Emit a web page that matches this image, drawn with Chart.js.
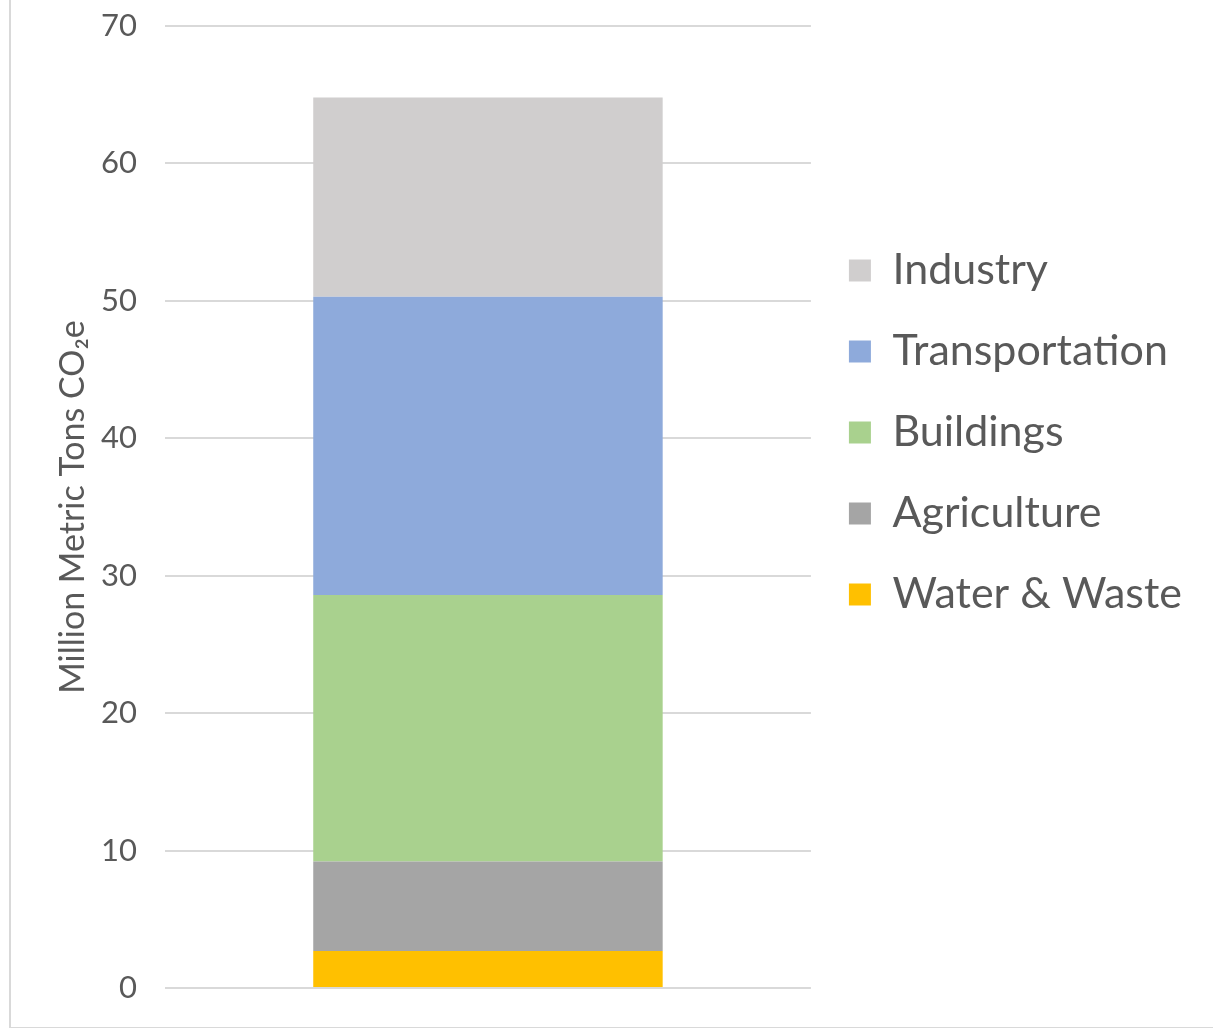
<!DOCTYPE html>
<html lang="en">
<head>
    <meta charset="UTF-8">
    <title>Emissions by Sector</title>
    <script src="https://cdn.jsdelivr.net/npm/chart.js"></script>
    <style>
        body {
            margin: 0;
            background: #fff;
            font-family: Lato, sans-serif;
            overflow: hidden;
        }
        #frame {
            position: absolute;
            left: 9px;
            top: -10px;
            width: 1300px;
            height: 1035px;
            border: 2px solid #d9d9d9;
        }
        #chartContainer {
            position: absolute;
            left: 0;
            top: 0;
            width: 1213px;
            height: 1028px;
        }
    </style>
</head>
<body>
    <div id="frame"></div>
    <div id="chartContainer">
        <canvas id="sectorChart"></canvas>
    </div>

    <script>
        // data (bottom of stack first)
        const categories = [''];
        const sectors = ['Water & Waste', 'Agriculture', 'Buildings', 'Transportation', 'Industry'];
        const waterWaste = [2.7];
        const agriculture = [6.5];
        const buildings = [19.4];
        const transportation = [21.7];
        const industry = [14.5];
        const sectorColors = ['#ffc000', '#a5a5a5', '#a9d18e', '#8eaadb', '#d0cece'];

        const seriesValues = [waterWaste, agriculture, buildings, transportation, industry];
        const textColor = '#595959';

        function drawChart() {
            const ctx = document.getElementById('sectorChart').getContext('2d');
            new Chart(ctx, {
                type: 'bar',
                data: {
                    labels: categories,
                    datasets: sectors.map((name, i) => ({
                        label: name,
                        data: seriesValues[i],
                        backgroundColor: sectorColors[i],
                        borderWidth: 0,
                        barPercentage: 0.541,
                        categoryPercentage: 1.0
                    }))
                },
                options: {
                    responsive: true,
                    maintainAspectRatio: false,
                    animation: false,
                    layout: {
                        padding: { left: 53, right: 21, top: 26, bottom: 40 }
                    },
                    plugins: {
                        tooltip: { enabled: false },
                        legend: {
                            position: 'right',
                            align: 'start',
                            reverse: true,
                            maxWidth: 420,
                            title: {
                                display: true,
                                text: ' ',
                                padding: { top: 173, bottom: 0 },
                                font: { size: 10 }
                            },
                            labels: {
                                boxWidth: 22,
                                boxHeight: 22,
                                padding: 38,
                                color: textColor,
                                font: { family: 'Lato', size: 43 }
                            }
                        }
                    },
                    scales: {
                        x: {
                            stacked: true,
                            display: false
                        },
                        y: {
                            stacked: true,
                            min: 0,
                            max: 70,
                            afterFit: (scale) => {
                                // let the layout padding decide where the plot starts
                                scale.paddingTop = 0;
                                scale.paddingBottom = 0;
                                scale.width = 112;
                            },
                            ticks: {
                                stepSize: 10,
                                padding: 28,
                                color: textColor,
                                font: { family: 'Lato', size: 31 }
                            },
                            grid: {
                                color: '#d9d9d9',
                                lineWidth: 2,
                                drawTicks: false
                            },
                            border: { display: false },
                            title: {
                                display: true,
                                text: 'Million Metric Tons CO₂e',
                                color: textColor,
                                padding: { top: 0, bottom: 4 },
                                font: { family: 'Lato', size: 34 }
                            }
                        }
                    }
                }
            });
        }

        Promise.all([
            document.fonts.load('43px Lato'),
            document.fonts.load('31px Lato')
        ]).then(drawChart, drawChart);
    </script>
</body>
</html>
